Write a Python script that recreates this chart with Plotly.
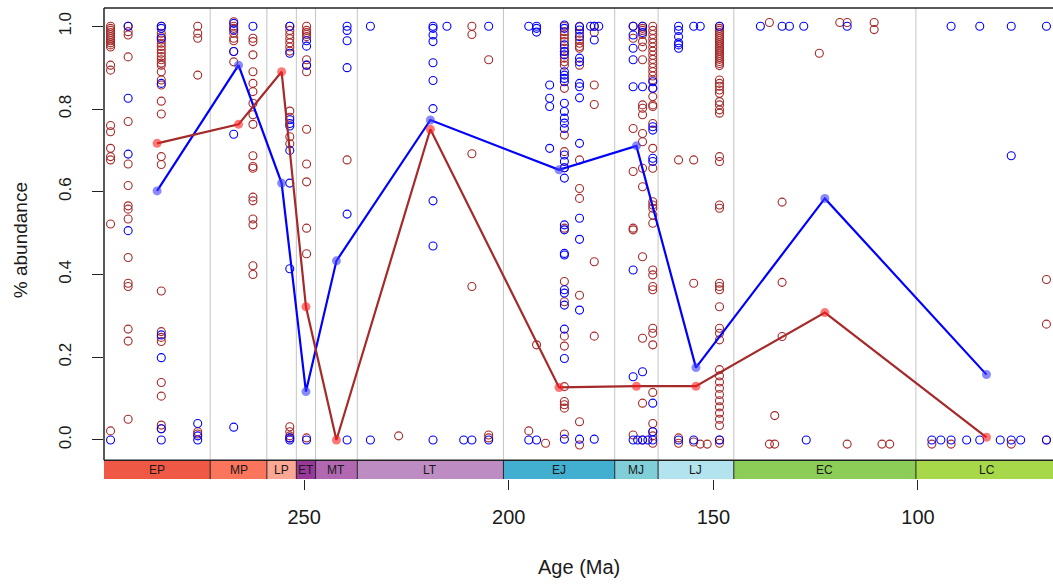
import plotly.graph_objects as go

# ---- geological time scale (Ma) ----
period_names = ["EP", "MP", "LP", "ET", "MT", "LT", "EJ", "MJ", "LJ", "EC", "LC"]
period_start = [298.9, 272.95, 259.1, 251.9, 247.2, 237.0, 201.3, 174.1, 163.5, 145.0, 100.5]
period_end = [272.95, 259.1, 251.9, 247.2, 237.0, 201.3, 174.1, 163.5, 145.0, 100.5, 66.0]
period_colors = ["#EF5845", "#FB745C", "#FBA794", "#983999", "#B168B1", "#BD8CC3",
                 "#42AED0", "#80CFD8", "#B3E3EE", "#8CCD57", "#A6D84A"]

# ---- per-period mean abundance ----
blue_mean = [0.602, 0.906, 0.621, 0.117, 0.433, 0.7735, 0.653, 0.711, 0.175, 0.584, 0.158]
red_mean = [0.717, 0.763, 0.890, 0.322, 0.0, 0.751, 0.127, 0.130, 0.130, 0.308, 0.0065]

# ---- occurrences: (age in Ma, abundances at that age) ----
blue_occ = [
    (297.3, [0.0]),
    (293.0, [1.0, 0.826, 0.691, 0.506]),
    (284.9, [1.0, 0.995, 0.971, 0.862, 0.254, 0.199, 0.027, 0.0]),
    (276.0, [0.04, 0.01, 0.0]),
    (267.2, [1.007, 0.991, 0.939, 0.739, 0.031]),
    (262.5, [1.0]),
    (253.5, [1.0, 0.935, 0.774, 0.765, 0.759, 0.70, 0.621, 0.414, 0.005, 0.0]),
    (249.4, [0.965, 0.952, 0.906, 0.0]),
    (239.5, [1.0, 0.99, 0.965, 0.90, 0.546, 0.0]),
    (233.8, [1.0, 0.0]),
    (218.5, [1.0, 0.995, 0.979, 0.963, 0.912, 0.869, 0.801, 0.578, 0.469, 0.0]),
    (215.1, [1.0]),
    (211.0, [0.0]),
    (209.0, [0.0]),
    (204.9, [1.0, 0.0]),
    (195.1, [1.0, 0.0]),
    (193.2, [1.0, 0.995, 0.986, 0.0]),
    (190.0, [0.858, 0.826, 0.806, 0.705]),
    (186.4, [1.003, 0.995, 0.955, 0.939, 0.931, 0.890, 0.882, 0.874, 0.866, 0.814, 0.794,
             0.778, 0.766, 0.753, 0.689, 0.673, 0.658, 0.633, 0.520, 0.508, 0.451, 0.447,
             0.363, 0.355, 0.326, 0.268, 0.197, 0.002]),
    (182.7, [0.999, 0.991, 0.975, 0.923, 0.914, 0.862, 0.854, 0.827, 0.717, 0.536, 0.485,
             0.314, 0.002]),
    (180.0, [1.0]),
    (179.1, [1.0, 0.967, 0.002]),
    (178.0, [1.0]),
    (169.6, [1.0, 0.979, 0.947, 0.919, 0.854, 0.411, 0.153, 0.0]),
    (168.5, [0.0]),
    (167.3, [1.0, 0.985, 0.854, 0.165, 0.0]),
    (166.0, [0.0]),
    (164.8, [0.866, 0.850, 0.757, 0.749, 0.681, 0.673, 0.089, 0.020, 0.0]),
    (158.5, [1.0, 0.99, 0.975, 0.96, 0.955, 0.947, 0.0]),
    (154.8, [1.0, 0.0]),
    (153.2, [1.0]),
    (148.5, [1.0, 0.0]),
    (138.5, [1.0]),
    (133.2, [1.0]),
    (131.4, [1.0]),
    (127.9, [1.0]),
    (127.3, [0.0]),
    (117.3, [1.0]),
    (96.6, [0.0]),
    (94.4, [0.0]),
    (91.9, [1.0, 0.0]),
    (88.1, [0.0]),
    (84.9, [1.0, 0.0]),
    (79.9, [0.0]),
    (77.2, [1.0, 0.687, 0.0]),
    (74.9, [0.0]),
    (68.6, [1.0, 0.0]),
]

red_occ = [
    (297.3, [1.0, 0.995, 0.99, 0.985, 0.98, 0.975, 0.97, 0.965, 0.96, 0.955, 0.95, 0.906,
             0.894, 0.76, 0.745, 0.705, 0.685, 0.677, 0.522, 0.022]),
    (293.0, [1.0, 0.987, 0.979, 0.926, 0.770, 0.667, 0.615, 0.566, 0.558, 0.534, 0.441,
             0.379, 0.371, 0.268, 0.239, 0.05]),
    (284.9, [1.0, 0.983, 0.975, 0.967, 0.959, 0.951, 0.943, 0.935, 0.927, 0.919, 0.911,
             0.906, 0.890, 0.870, 0.858, 0.819, 0.788, 0.685, 0.666, 0.360, 0.262, 0.248,
             0.238, 0.139, 0.106, 0.036, 0.027]),
    (276.0, [1.0, 0.983, 0.971, 0.882, 0.02, 0.0145]),
    (267.2, [1.011, 1.0, 0.995, 0.983, 0.971, 0.965, 0.939, 0.914]),
    (262.5, [0.971, 0.963, 0.931, 0.890, 0.862, 0.842, 0.814, 0.786, 0.763, 0.687, 0.661,
             0.657, 0.587, 0.578, 0.534, 0.52, 0.421, 0.40]),
    (253.5, [1.0, 0.99, 0.98, 0.97, 0.96, 0.95, 0.94, 0.795, 0.78, 0.733, 0.716, 0.032,
             0.02, 0.01, 0.005]),
    (249.4, [1.0, 0.99, 0.985, 0.98, 0.975, 0.919, 0.906, 0.89, 0.751, 0.667, 0.624, 0.512,
             0.45, 0.005]),
    (239.5, [0.677]),
    (226.9, [0.01]),
    (209.0, [1.0, 0.98, 0.692, 0.371]),
    (204.9, [0.919, 0.012, 0.005]),
    (195.1, [0.022]),
    (193.2, [0.23]),
    (191.0, [-0.008]),
    (186.4, [1.0, 0.987, 0.979, 0.971, 0.963, 0.947, 0.939, 0.923, 0.914, 0.906, 0.850,
             0.737, 0.697, 0.658, 0.512, 0.383, 0.334, 0.251, 0.227, 0.129, 0.093, 0.085,
             0.077, 0.0145]),
    (182.7, [1.0, 0.983, 0.967, 0.959, 0.951, 0.947, 0.906, 0.677, 0.608, 0.584, 0.350,
             0.044, -0.012]),
    (179.1, [1.0, 0.985, 0.858, 0.811, 0.431, 0.251]),
    (169.6, [1.0, 0.971, 0.753, 0.649, 0.512, 0.508, 0.012]),
    (167.3, [1.0, 0.995, 0.99, 0.98, 0.963, 0.95, 0.919, 0.810, 0.802, 0.786, 0.741, 0.721,
             0.657, 0.612, 0.443, 0.246, 0.089, 0.0]),
    (164.8, [1.0, 0.99, 0.98, 0.97, 0.96, 0.95, 0.94, 0.93, 0.92, 0.91, 0.90, 0.89, 0.88,
             0.87, 0.85, 0.83, 0.810, 0.806, 0.765, 0.705, 0.657, 0.576, 0.568, 0.56, 0.544,
             0.524, 0.411, 0.399, 0.371, 0.363, 0.270, 0.258, 0.230, 0.115, 0.040, 0.020,
             0.01, -0.008]),
    (158.5, [0.677, 0.005, -0.008]),
    (154.8, [0.677, 0.379, -0.005]),
    (153.2, [-0.01]),
    (151.5, [-0.01]),
    (148.5, [1.0, 0.995, 0.99, 0.985, 0.98, 0.975, 0.97, 0.965, 0.96, 0.955, 0.95, 0.945,
             0.94, 0.935, 0.93, 0.925, 0.92, 0.915, 0.91, 0.905, 0.87, 0.862, 0.855, 0.846,
             0.838, 0.818, 0.81, 0.798, 0.79, 0.685, 0.673, 0.568, 0.56, 0.379, 0.371, 0.363,
             0.322, 0.27, 0.258, 0.242, 0.17, 0.155, 0.14, 0.125, 0.11, 0.095, 0.08, 0.065,
             0.05, 0.035, 0.0, -0.008]),
    (136.3, [1.009, -0.01]),
    (135.0, [-0.01, 0.059]),
    (133.2, [0.575, 0.381, 0.25]),
    (124.1, [0.935]),
    (119.1, [1.009]),
    (117.3, [1.009, -0.01]),
    (110.7, [1.009, 0.992]),
    (108.8, [-0.01]),
    (106.9, [-0.01]),
    (96.6, [-0.01]),
    (91.9, [-0.01]),
    (77.2, [-0.01]),
    (68.6, [0.388, 0.28, 0.0]),
]

# ---- axis limits ----
X_RANGE = [298.9, 67.0]
Y_TOP = 1.0442
Y_BOX = -0.049      # bottom of the data box / top of the time-scale bar
Y_BAR = -0.0943     # bottom of the time-scale bar

FONT = "Liberation Sans, Arial, sans-serif"
TXT = "#1a1a1a"


def flatten(occ):
    xs, ys = [], []
    for age, vals in occ:
        for v in vals:
            xs.append(age)
            ys.append(v)
    return xs, ys


period_mid = [(a + b) / 2 for a, b in zip(period_start, period_end)]

fig = go.Figure()

rx, ry = flatten(red_occ)
bx, by = flatten(blue_occ)

fig.add_trace(go.Scatter(
    x=rx, y=ry, mode="markers",
    marker=dict(symbol="circle-open", size=8, color="#A52A2A", line=dict(width=1.1)),
    hoverinfo="skip", showlegend=False))
fig.add_trace(go.Scatter(
    x=bx, y=by, mode="markers",
    marker=dict(symbol="circle-open", size=8, color="#0000FF", line=dict(width=1.1)),
    hoverinfo="skip", showlegend=False))

fig.add_trace(go.Scatter(
    x=period_mid, y=blue_mean, mode="lines+markers",
    line=dict(color="#0000FF", width=2.2),
    marker=dict(symbol="circle", size=9, color="rgba(60,60,255,0.6)", line=dict(width=0)),
    showlegend=False))
fig.add_trace(go.Scatter(
    x=period_mid, y=red_mean, mode="lines+markers",
    line=dict(color="#A52A2A", width=2.2),
    marker=dict(symbol="circle", size=9, color="rgba(255,30,30,0.6)", line=dict(width=0)),
    showlegend=False))

shapes = []
# grey period boundaries inside the data box
for b in period_start[1:]:
    shapes.append(dict(type="line", xref="x", yref="y", x0=b, x1=b, y0=Y_BOX, y1=Y_TOP,
                       line=dict(color="#C4C4C4", width=1), layer="below"))
# time-scale bar
for s, e, c in zip(period_start, period_end, period_colors):
    shapes.append(dict(type="rect", xref="x", yref="y", x0=s, x1=e, y0=Y_BAR, y1=Y_BOX,
                       fillcolor=c, line=dict(width=0), layer="above"))
for b in period_start[1:]:
    shapes.append(dict(type="line", xref="x", yref="y", x0=b, x1=b, y0=Y_BAR, y1=Y_BOX,
                       line=dict(color="#222222", width=1), layer="above"))
# box outline (top, left, bottom of the data box)
shapes.append(dict(type="line", xref="paper", yref="y", x0=0, x1=1, y0=Y_BOX, y1=Y_BOX,
                   line=dict(color="#222222", width=1.5), layer="above"))
shapes.append(dict(type="line", xref="paper", yref="paper", x0=0, x1=1, y0=1, y1=1,
                   line=dict(color="#222222", width=1.5), layer="above"))
shapes.append(dict(type="line", xref="paper", yref="y", x0=0, x1=0, y0=Y_BOX, y1=Y_TOP,
                   line=dict(color="#222222", width=1.5), layer="above"))

annotations = []
for name, m in zip(period_names, period_mid):
    annotations.append(dict(x=m, y=(Y_BAR + Y_BOX) / 2, xref="x", yref="y", text=name,
                            showarrow=False, font=dict(family=FONT, size=12, color=TXT),
                            xanchor="center", yanchor="middle"))
annotations.append(dict(x=0.5, y=-0.187, xref="paper", yref="paper", text="Age (Ma)",
                        showarrow=False, font=dict(family=FONT, size=20, color=TXT),
                        xanchor="center", yanchor="middle"))
# y title sits 20 px from the left edge of the figure
annotations.append(dict(x=0, xshift=-(104 - 20), y=0.507, xref="paper", yref="paper",
                        text="% abundance", showarrow=False, textangle=-90,
                        font=dict(family=FONT, size=19, color=TXT),
                        xanchor="center", yanchor="middle"))

fig.update_layout(
    width=1053, height=585,
    margin=dict(l=104, r=0, t=8, b=106, pad=0),
    paper_bgcolor="white", plot_bgcolor="white",
    shapes=shapes, annotations=annotations,
    xaxis=dict(range=X_RANGE, showgrid=False, zeroline=False, showline=False,
               tickvals=[250, 200, 150, 100], ticktext=["250", "200", "150", "100"],
               ticks="outside", ticklen=10, tickwidth=1, tickcolor="#222222",
               ticklabelstandoff=10,
               tickfont=dict(family=FONT, size=20, color=TXT)),
    yaxis=dict(range=[Y_BAR, Y_TOP], showgrid=False, zeroline=False, showline=False,
               tickvals=[0, 0.2, 0.4, 0.6, 0.8, 1.0],
               ticktext=["0.0", "0.2", "0.4", "0.6", "0.8", "1.0"],
               ticks="outside", ticklen=11, tickwidth=1, tickcolor="#222222",
               tickangle=-90, ticklabelstandoff=14,
               tickfont=dict(family=FONT, size=17, color=TXT)),
)

fig.write_html("out.html")
